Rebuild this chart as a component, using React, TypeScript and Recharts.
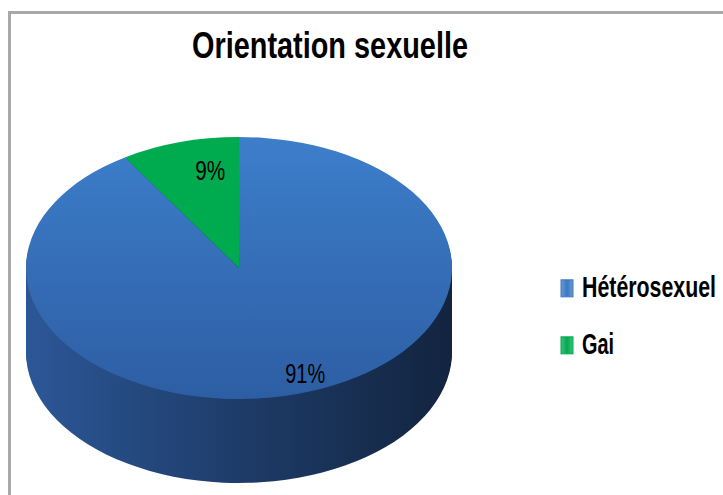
import { PieChart, Pie, Cell, Legend } from 'recharts';

const categories = ['Hétérosexuel', 'Gai'];
const values = [91, 9];
const sliceColors = ['url(#topBlue)', '#00aa4f'];
const legendColors = ['#3b78c2', '#00aa4f'];

const data = categories.map((name, i) => ({ name, value: values[i] }));

// disc geometry (page pixels), the disc is drawn round and squashed with scaleY
const K = 0.615;
const CX = 239;
const TOP_CY = 268;
const DEPTH = 84;
const R = 213;
const STEP = 2;

// the original font is a narrow one, so widths are forced with textLength
const FONT = "'Liberation Sans', Arial, sans-serif";
const labelWidths = [40, 30];
const legendWidths = [134, 32];

const sideLayers: number[] = [];
for (let d = DEPTH; d > 0; d -= STEP) sideLayers.push(d);

const labelRadius = [0.86, 0.76];
const labelShift = [5, -6];

const renderLabel = (props: any) => {
  const { cx, cy, midAngle, outerRadius, index, value } = props;
  const rad = Math.PI / 180;
  const r = outerRadius * labelRadius[index];
  const a = midAngle + labelShift[index];
  const x = cx + r * Math.cos(-a * rad);
  const y = cy + r * Math.sin(-a * rad);
  return (
    <text
      x={x}
      y={y}
      textAnchor="middle"
      dominantBaseline="central"
      fontFamily={FONT}
      fontSize={28}
      textLength={labelWidths[index]}
      lengthAdjust="spacingAndGlyphs"
      fill="#000"
      transform={`translate(${x},${y}) scale(1,${1 / K}) translate(${-x},${-y})`}
    >
      {`${value}%`}
    </text>
  );
};

const renderLegend = (props: any) => {
  const payload = props.payload || [];
  // side layers repeat the same entries, keep one per category in data order
  const items = categories
    .map((c) => payload.find((p: any) => p.value === c))
    .filter(Boolean);
  return (
    <div style={{ transform: `scaleY(${1 / K})`, transformOrigin: 'top left' }}>
      <svg width={166} height={100}>
        <defs>
          {legendColors.map((c, i) => (
            <linearGradient key={i} id={`lg${i}`} x1="0" y1="0" x2="1" y2="0">
              <stop offset="0%" stopColor={c} stopOpacity={0.75} />
              <stop offset="50%" stopColor={c} />
              <stop offset="100%" stopColor={c} stopOpacity={0.75} />
            </linearGradient>
          ))}
        </defs>
        {items.map((p: any, i: number) => (
          <g key={p.value} transform={`translate(0,${i * 57})`}>
            <rect x={6} y={8} width={12} height={17} fill={`url(#lg${i})`} stroke={legendColors[i]} strokeWidth={1} />
            <text
              x={27}
              y={25}
              fontFamily={FONT}
              fontSize={29}
              fontWeight="bold"
              textLength={legendWidths[i]}
              lengthAdjust="spacingAndGlyphs"
              fill="#000"
            >
              {p.value}
            </text>
          </g>
        ))}
      </svg>
    </div>
  );
};

export default function App() {
  const chartH = 495 / K;
  return (
    <div style={{ position: 'absolute', left: 0, top: 0, width: 723, height: 495, overflow: 'hidden', background: '#fff' }}>
      <div style={{ position: 'absolute', left: 8, top: 11, width: 800, height: 600, border: '3px solid #a8a8a8', boxSizing: 'border-box' }} />
      <svg style={{ position: 'absolute', left: 0, top: 0 }} width={723} height={80}>
        <text
          x={192}
          y={58}
          fontFamily={FONT}
          fontSize={36}
          fontWeight="bold"
          textLength={276}
          lengthAdjust="spacingAndGlyphs"
          fill="#000"
        >
          Orientation sexuelle
        </text>
      </svg>
      <div style={{ position: 'absolute', left: 0, top: 0, transform: `scaleY(${K})`, transformOrigin: 'top left' }}>
        <PieChart width={723} height={chartH} margin={{ top: 0, right: 0, bottom: 0, left: 0 }}>
          <defs>
            <linearGradient id="topBlue" x1="0" y1="0" x2="0" y2="1">
              <stop offset="0%" stopColor="#3d7ecb" />
              <stop offset="100%" stopColor="#2d5ea3" />
            </linearGradient>
            <linearGradient id="side" x1="0" y1="0" x2="1" y2="0">
              <stop offset="0%" stopColor="#2c5797" />
              <stop offset="50%" stopColor="#1e3c69" />
              <stop offset="100%" stopColor="#12243f" />
            </linearGradient>
          </defs>
          {sideLayers.map((d) => (
            <Pie
              key={`side-${d}`}
              data={data}
              dataKey="value"
              nameKey="name"
              cx={CX}
              cy={(TOP_CY + d) / K}
              outerRadius={R}
              startAngle={90}
              endAngle={-270}
              fill="url(#side)"
              stroke="none"
              legendType="none"
              isAnimationActive={false}
            />
          ))}
          <Pie
            data={data}
            dataKey="value"
            nameKey="name"
            cx={CX}
            cy={TOP_CY / K}
            outerRadius={R}
            startAngle={90}
            endAngle={-270}
            stroke="none"
            label={renderLabel}
            labelLine={false}
            isAnimationActive={false}
          >
            {data.map((d, i) => (
              <Cell key={d.name} fill={sliceColors[i]} />
            ))}
          </Pie>
          <Legend
            content={renderLegend}
            wrapperStyle={{ position: 'absolute', left: 555, top: 272 / K, width: 166, bottom: 'auto' }}
          />
        </PieChart>
      </div>
    </div>
  );
}
